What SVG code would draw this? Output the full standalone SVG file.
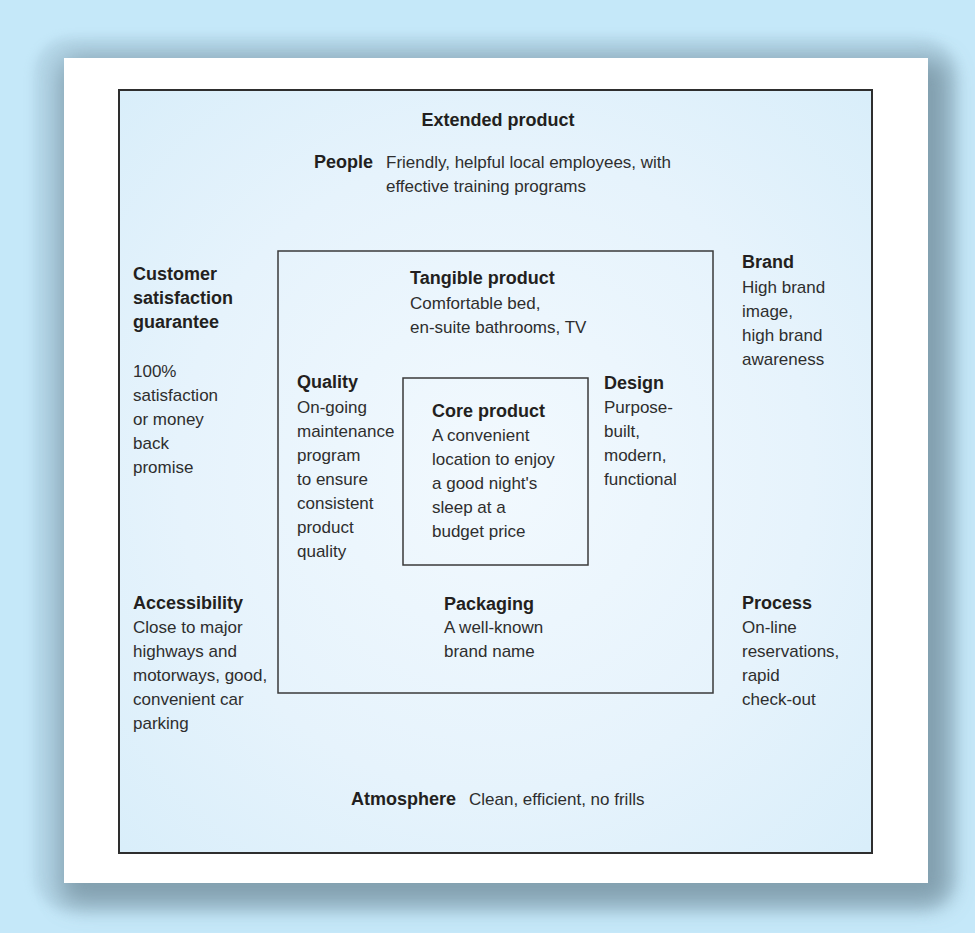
<svg xmlns="http://www.w3.org/2000/svg" width="975" height="933" viewBox="0 0 975 933">
  <defs>
    <filter id="soft" x="-10%" y="-10%" width="120%" height="120%">
      <feGaussianBlur stdDeviation="12"/>
    </filter>
    <filter id="glow" x="-10%" y="-10%" width="120%" height="120%">
      <feGaussianBlur stdDeviation="6"/>
    </filter>
    <radialGradient id="panel" cx="0.5" cy="0.5" r="0.7">
      <stop offset="0" stop-color="#F2F9FE"/>
      <stop offset="0.6" stop-color="#E6F3FC"/>
      <stop offset="1" stop-color="#D9EEFA"/>
    </radialGradient>
    <style>
      .t { font-family: "Liberation Sans", Arial, sans-serif; font-size: 17px; fill: #2e2e2e; }
      .b { font-family: "Liberation Sans", Arial, sans-serif; font-size: 18px; font-weight: bold; fill: #231f20; }
      .box { fill: none; stroke: #3a3a3a; stroke-width: 1.5; }
    </style>
  </defs>

  <!-- background -->
  <rect x="0" y="0" width="975" height="933" fill="#C5E8F9"/>
  <rect x="34" y="38" width="922" height="873" rx="36" fill="#9fc0d2" opacity="0.45" filter="url(#glow)"/>
  <rect x="60" y="58" width="890" height="847" rx="18" fill="#6d8896" opacity="0.7" filter="url(#soft)"/>
  <rect x="64" y="58" width="864" height="825" fill="#FFFFFF"/>

  <!-- extended product frame -->
  <g id="extended-product">
    <rect x="119" y="90" width="753" height="763" fill="url(#panel)" stroke="#2e2e2e" stroke-width="2"/>
    <text class="b" x="498" y="126" text-anchor="middle">Extended product</text>
  </g>

  <g id="tangible-product">
    <rect class="box" x="278" y="251" width="435" height="442"/>
    <text class="b" x="410" y="284">Tangible product</text>
    <text class="t" x="410" y="309">Comfortable bed,</text>
    <text class="t" x="410" y="333">en-suite bathrooms, TV</text>
  </g>

  <g id="core-product">
    <rect class="box" x="403" y="378" width="185" height="187"/>
    <text class="b" x="432" y="417">Core product</text>
    <text class="t" x="432" y="441">A convenient</text>
    <text class="t" x="432" y="465">location to enjoy</text>
    <text class="t" x="432" y="489">a good night's</text>
    <text class="t" x="432" y="513">sleep at a</text>
    <text class="t" x="432" y="537">budget price</text>
  </g>

  <g id="people">
    <text class="b" x="373" y="168" text-anchor="end">People</text>
    <text class="t" x="386" y="168">Friendly, helpful local employees, with</text>
    <text class="t" x="386" y="192">effective training programs</text>
  </g>

  <g id="customer-satisfaction">
    <text class="b" x="133" y="280">Customer</text>
    <text class="b" x="133" y="304">satisfaction</text>
    <text class="b" x="133" y="328">guarantee</text>
    <text class="t" x="133" y="377">100%</text>
    <text class="t" x="133" y="401">satisfaction</text>
    <text class="t" x="133" y="425">or money</text>
    <text class="t" x="133" y="449">back</text>
    <text class="t" x="133" y="473">promise</text>
  </g>

  <g id="brand">
    <text class="b" x="742" y="268">Brand</text>
    <text class="t" x="742" y="293">High brand</text>
    <text class="t" x="742" y="317">image,</text>
    <text class="t" x="742" y="341">high brand</text>
    <text class="t" x="742" y="365">awareness</text>
  </g>

  <g id="quality">
    <text class="b" x="297" y="388">Quality</text>
    <text class="t" x="297" y="413">On-going</text>
    <text class="t" x="297" y="437">maintenance</text>
    <text class="t" x="297" y="461">program</text>
    <text class="t" x="297" y="485">to ensure</text>
    <text class="t" x="297" y="509">consistent</text>
    <text class="t" x="297" y="533">product</text>
    <text class="t" x="297" y="557">quality</text>
  </g>

  <g id="design">
    <text class="b" x="604" y="389">Design</text>
    <text class="t" x="604" y="413">Purpose-</text>
    <text class="t" x="604" y="437">built,</text>
    <text class="t" x="604" y="461">modern,</text>
    <text class="t" x="604" y="485">functional</text>
  </g>

  <g id="accessibility">
    <text class="b" x="133" y="609">Accessibility</text>
    <text class="t" x="133" y="633">Close to major</text>
    <text class="t" x="133" y="657">highways and</text>
    <text class="t" x="133" y="681">motorways, good,</text>
    <text class="t" x="133" y="705">convenient car</text>
    <text class="t" x="133" y="729">parking</text>
  </g>

  <g id="packaging">
    <text class="b" x="444" y="610">Packaging</text>
    <text class="t" x="444" y="633">A well-known</text>
    <text class="t" x="444" y="657">brand name</text>
  </g>

  <g id="process">
    <text class="b" x="742" y="609">Process</text>
    <text class="t" x="742" y="633">On-line</text>
    <text class="t" x="742" y="657">reservations,</text>
    <text class="t" x="742" y="681">rapid</text>
    <text class="t" x="742" y="705">check-out</text>
  </g>

  <g id="atmosphere">
    <text class="b" x="351" y="805">Atmosphere</text>
    <text class="t" x="469" y="805">Clean, efficient, no frills</text>
  </g>

  <g id="connectors"/>
</svg>
